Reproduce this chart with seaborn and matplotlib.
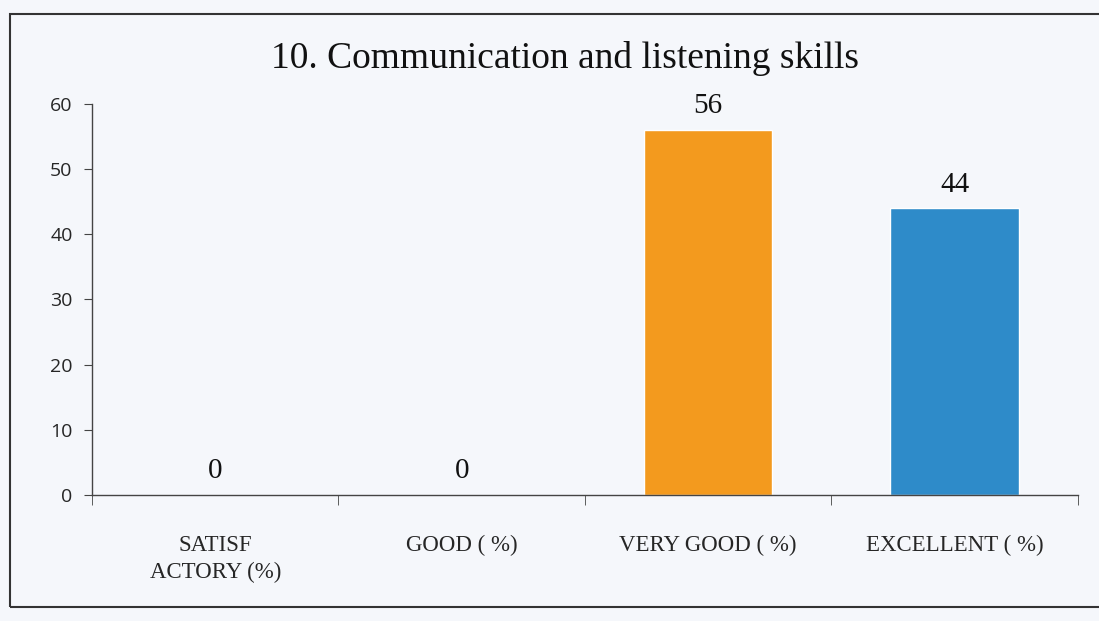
import pandas as pd
import seaborn as sns
import matplotlib.pyplot as plt
from matplotlib.patches import Rectangle

categories = ["SATISF\nACTORY (%)", "GOOD ( %)", "VERY GOOD ( %)", "EXCELLENT ( %)"]
values = [0, 0, 56, 44]
colors = ["#F39A1E", "#F39A1E", "#F39A1E", "#2E8BC9"]

df = pd.DataFrame({"category": categories, "value": values})

sns.set_style("white")
plt.rcParams["font.family"] = ["Liberation Serif", "DejaVu Serif"]

fig = plt.figure(figsize=(10.99, 6.21), dpi=100, facecolor="#f5f7fb")
ax = fig.add_axes([0.0837, 0.203, 0.897, 0.630])
ax.set_facecolor("#f5f7fb")

sns.barplot(df, x="category", y="value", hue="category", palette=colors,
            width=0.52, legend=False, ax=ax, saturation=1)

for i, v in enumerate(values):
    ax.text(i, v + 3.6, f"{v}", ha="center", va="center", fontsize=21, color="#111111")

ax.set_ylim(0, 60)
ax.set_xlim(-0.5, 3.5)
ax.set_yticks(range(0, 61, 10))
ax.set_yticklabels([str(t) for t in range(0, 61, 10)], family="Open Sans", fontsize=14)
ax.tick_params(axis="y", direction="out", length=6, left=True, color="#444444", pad=8)
ax.set_xticks([0.5 + k for k in range(-1, 4)], minor=True)
ax.tick_params(axis="x", which="minor", direction="out", length=7, bottom=True, color="#444444")
ax.tick_params(axis="x", which="major", length=0, labelsize=16.5, pad=29)
for lbl in ax.get_xticklabels():
    lbl.set_linespacing(1.35)
ax.set_xlabel("")
ax.set_ylabel("")
for s in ["top", "right"]:
    ax.spines[s].set_visible(False)
for s in ["left", "bottom"]:
    ax.spines[s].set_color("#444444")
    ax.spines[s].set_linewidth(1.0)

fig.text(0.514, 0.905, "10. Communication and listening skills", ha="center", va="center",
         fontsize=27, color="#111111")

fig.patches.append(Rectangle((0.009, 0.022), 1.2, 0.955, transform=fig.transFigure,
                             fill=False, edgecolor="#333333", linewidth=1.5))

fig.savefig("out.png", dpi=100, facecolor=fig.get_facecolor())
